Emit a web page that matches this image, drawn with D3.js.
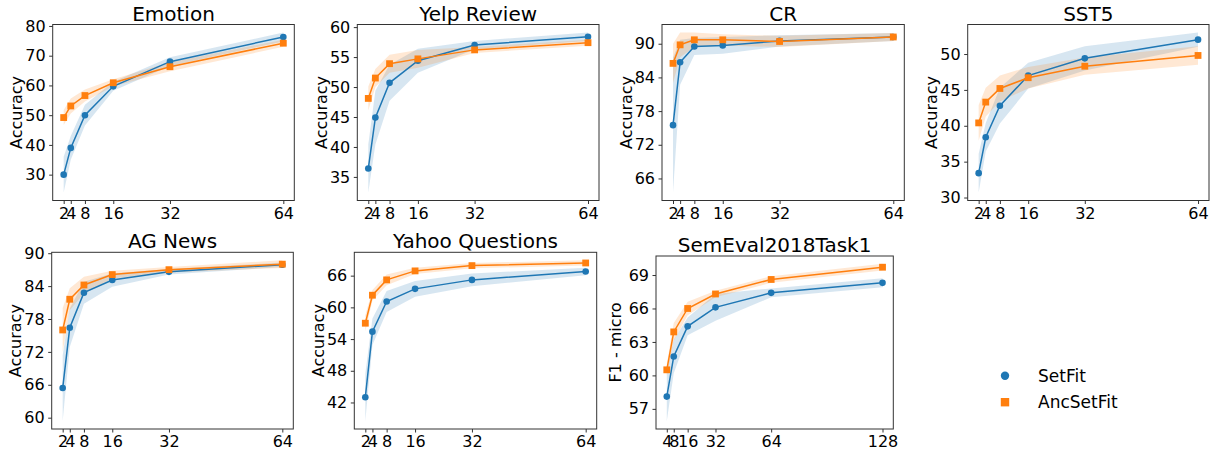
<!DOCTYPE html>
<html><head><meta charset="utf-8">
<script src="https://cdn.jsdelivr.net/npm/d3@7"></script>
<style>body{margin:0;background:#fff}svg{display:block}text{font-family:"DejaVu Sans",sans-serif;fill:#000}</style>
</head><body><svg id="c" width="1214" height="452"></svg>
<script>
// ---- data ----
const titles = ["Emotion","Yelp Review","CR","SST5","AG News","Yahoo Questions","SemEval2018Task1"];
const yLabels = ["Accuracy","Accuracy","Accuracy","Accuracy","Accuracy","Accuracy","F1 - micro"];
const shotsA = [2,4,8,16,32,64];
const shotsB = [4,8,16,32,64,128];
const xTicksA = [2,4,8,16,32,64];
const xTicksB = [4,8,16,32,64,128];
const yTicks = [
  [30,40,50,60,70,80],
  [35,40,45,50,55,60],
  [66,72,78,84,90],
  [30,35,40,45,50],
  [60,66,72,78,84,90],
  [42,48,54,60,66],
  [57,60,63,66,69]
];
const setfitMean = [
  [30.0,39.0,50.0,59.7,68.0,76.3],
  [36.4,44.9,50.7,54.4,57.0,58.4],
  [75.5,86.7,89.5,89.7,90.5,91.2],
  [33.4,38.4,42.8,47.0,49.4,52.0],
  [65.4,76.4,82.8,85.1,86.6,87.9],
  [43.0,55.4,61.1,63.5,65.2,66.8],
  [58.1,61.7,64.4,66.1,67.4,68.3]
];
const setfitStd = [
  [6.0,4.0,3.5,1.5,1.5,1.5],
  [4.0,4.5,3.0,2.0,0.7,0.7],
  [12.0,4.0,1.5,1.5,1.0,0.7],
  [2.7,2.0,2.5,1.8,1.7,1.0],
  [6.0,3.5,2.0,1.2,0.5,0.4],
  [4.5,2.5,2.0,1.5,1.2,0.7],
  [2.2,1.5,0.8,1.2,0.4,0.4]
];
const ancMean = [
  [49.2,53.1,56.6,60.9,66.3,74.2],
  [48.1,51.5,53.9,54.7,56.2,57.4],
  [86.5,89.8,90.7,90.7,90.4,91.2],
  [40.4,43.3,45.2,46.7,48.3,49.8],
  [76.0,81.6,84.2,86.1,87.0,88.0],
  [57.0,62.3,65.2,66.9,67.9,68.4],
  [60.5,63.9,66.0,67.3,68.6,69.7]
];
const ancStd = [
  [2.5,2.5,2.0,1.2,1.5,1.2],
  [2.0,1.5,1.5,1.5,0.5,0.5],
  [3.5,2.2,1.3,1.0,1.0,0.7],
  [2.5,2.0,1.8,1.5,1.2,1.3],
  [4.0,2.0,1.5,0.7,0.5,0.7],
  [1.5,1.0,1.0,0.6,0.5,0.5],
  [0.5,0.8,0.6,0.3,0.3,0.3]
];
const seriesNames = ["SetFit","AncSetFit"];
const colors = ["#1f77b4","#ff7f0e"];

// ---- layout (panel boxes) ----
const boxes = [
  [52.7,24.5,294.3,200.5],[357.3,24.5,599,200.5],[662,24.5,904.3,200.5],[967.7,24.5,1209,200.5],
  [51.7,252.3,293.3,429],[354.3,252.3,596.7,429],[656,256,893.3,429]
];
const ylabGap = [30.5,30.5,30.5,30.5,30.5,30.5,35];

const svg = d3.select("#c");

titles.forEach((title,i)=>{
  const [x0,y0,x1,y1] = boxes[i];
  const shots = i===6 ? shotsB : shotsA;
  const xt = i===6 ? xTicksB : xTicksA;
  const series = [
    shots.map((s,k)=>({x:s,m:setfitMean[i][k],lo:setfitMean[i][k]-setfitStd[i][k],hi:setfitMean[i][k]+setfitStd[i][k]})),
    shots.map((s,k)=>({x:s,m:ancMean[i][k],lo:ancMean[i][k]-ancStd[i][k],hi:ancMean[i][k]+ancStd[i][k]}))
  ];
  const xmin=d3.min(shots), xmax=d3.max(shots), xr=xmax-xmin;
  const x = d3.scaleLinear().domain([xmin-0.05*xr, xmax+0.05*xr]).range([x0,x1]);
  const lo = d3.min(series.flat(),d=>d.lo), hi = d3.max(series.flat(),d=>d.hi), yr=hi-lo;
  const y = d3.scaleLinear().domain([lo-0.05*yr, hi+0.05*yr]).range([y1,y0]);

  const g = svg.append("g");
  const clipId = "clip"+i;
  g.append("clipPath").attr("id",clipId).append("rect").attr("x",x0).attr("y",y0).attr("width",x1-x0).attr("height",y1-y0);
  const plot = g.append("g").attr("clip-path",`url(#${clipId})`);

  series.forEach((s,si)=>{
    plot.append("path").datum(s)
      .attr("d",d3.area().x(d=>x(d.x)).y0(d=>y(d.lo)).y1(d=>y(d.hi)))
      .attr("fill",colors[si]).attr("fill-opacity",0.18).attr("stroke","none");
  });
  series.forEach((s,si)=>{
    plot.append("path").datum(s)
      .attr("d",d3.line().x(d=>x(d.x)).y(d=>y(d.m)))
      .attr("fill","none").attr("stroke",colors[si]).attr("stroke-width",1.5);
    if(si===0){
      plot.selectAll(null).data(s).join("circle")
        .attr("cx",d=>x(d.x)).attr("cy",d=>y(d.m)).attr("r",3.3).attr("fill",colors[si]);
    } else {
      plot.selectAll(null).data(s).join("rect")
        .attr("x",d=>x(d.x)-3.4).attr("y",d=>y(d.m)-3.4).attr("width",6.8).attr("height",6.8).attr("fill",colors[si]);
    }
  });

  // frame
  g.append("rect").attr("x",x0).attr("y",y0).attr("width",x1-x0).attr("height",y1-y0)
    .attr("fill","none").attr("stroke","#333").attr("stroke-width",1);

  // x axis
  const xa = g.append("g").attr("transform",`translate(0,${y1})`)
    .call(d3.axisBottom(x).tickValues(xt).tickSize(3.5).tickPadding(3.5).tickFormat(d3.format("d")));
  xa.select(".domain").remove();
  xa.selectAll("line").attr("stroke","#333");
  xa.selectAll("text").attr("font-size",16).attr("font-family","DejaVu Sans").attr("fill","#000");

  const ya = g.append("g").attr("transform",`translate(${x0},0)`)
    .call(d3.axisLeft(y).tickValues(yTicks[i]).tickSize(3.5).tickPadding(3.5).tickFormat(d3.format("d")));
  ya.select(".domain").remove();
  ya.selectAll("line").attr("stroke","#333");
  ya.selectAll("text").attr("font-size",16).attr("font-family","DejaVu Sans").attr("fill","#000");

  g.append("text").attr("x",(x0+x1)/2).attr("y",y0-4).attr("text-anchor","middle")
    .attr("font-size",20).text(title);
  g.append("text").attr("transform",`translate(${x0-ylabGap[i]},${(y0+y1)/2}) rotate(-90)`)
    .attr("text-anchor","middle").attr("font-size",16).text(yLabels[i]);
});

// legend
const leg = svg.append("g");
leg.append("circle").attr("cx",1005).attr("cy",375.7).attr("r",4.2).attr("fill",colors[0]);
leg.append("rect").attr("x",1000.8).attr("y",398).attr("width",8.4).attr("height",8.4).attr("fill",colors[1]);
leg.selectAll(null).data(seriesNames).join("text")
  .attr("x",1038).attr("y",(d,k)=>381.8+k*26.6).attr("font-size",17).text(d=>d);
</script></body></html>
